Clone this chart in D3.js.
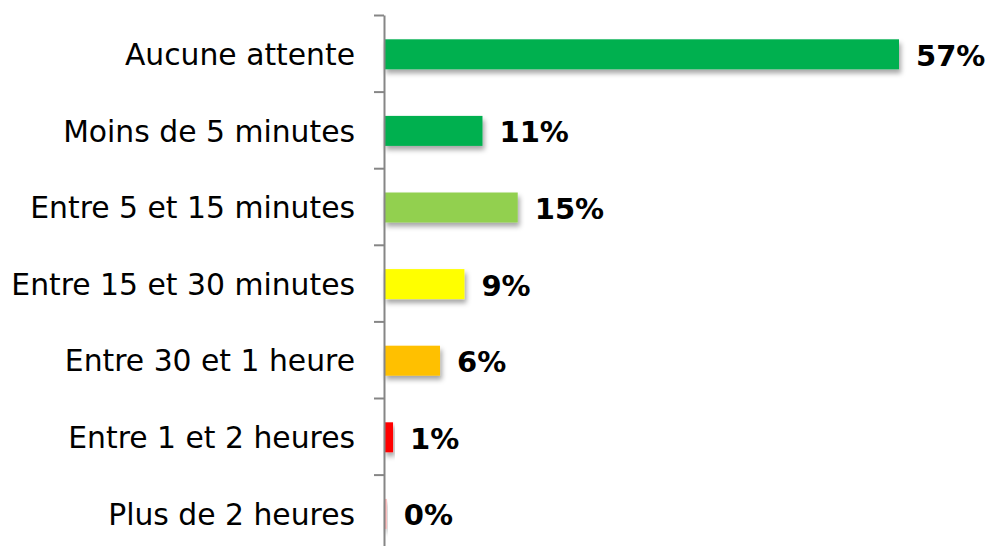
<!DOCTYPE html>
<html>
<head>
<meta charset="utf-8">
<script src="https://cdn.jsdelivr.net/npm/d3@7"></script>
<style>
  body { margin: 0; background: #fff; }
  svg { display: block; }
</style>
</head>
<body>
<div id="chart"></div>
<script>
var categories = ["Aucune attente", "Moins de 5 minutes", "Entre 5 et 15 minutes",
    "Entre 15 et 30 minutes", "Entre 30 et 1 heure", "Entre 1 et 2 heures", "Plus de 2 heures"];
var values = [57, 10.9, 14.8, 8.9, 6.2, 1.0, 0.3];
var valueLabels = ["57%", "11%", "15%", "9%", "6%", "1%", "0%"];
var colors = ["#00B050", "#00B050", "#92D050", "#FFFF00", "#FFC000", "#FF0000", "#FFB0B0"];

var width = 990, height = 546;
var axisX = 384, plotTop = 15, step = 76.6;

var svg = d3.select("#chart").append("svg")
    .attr("width", width)
    .attr("height", height);

var defs = svg.append("defs");
var f = defs.append("filter").attr("id", "shadow")
    .attr("x", "-10%").attr("y", "-30%").attr("width", "130%").attr("height", "180%");
f.append("feDropShadow")
    .attr("dx", 2).attr("dy", 4).attr("stdDeviation", 2.5)
    .attr("flood-color", "#000").attr("flood-opacity", 0.35);

var x = d3.scaleLinear().domain([0, 57]).range([axisX, 899]);
var y = d3.scaleBand().domain(categories).range([plotTop, plotTop + step * categories.length]).padding(0);
var yIdx = d3.scaleLinear().domain([0, categories.length]).range([plotTop, plotTop + step * categories.length]);

var barH = 30;

// bars
svg.selectAll("rect.bar")
    .data(categories)
    .enter().append("rect")
    .attr("class", "bar")
    .attr("x", x(0))
    .attr("y", function (d) { return y(d) + (y.bandwidth() - barH) / 2 + 1; })
    .attr("width", function (d, i) { return x(values[i]) - x(0); })
    .attr("height", barH)
    .attr("fill", function (d, i) { return colors[i]; })
    .attr("filter", "url(#shadow)");

// axis with ticks on category boundaries
svg.append("g")
    .attr("transform", "translate(" + axisX + ",0)")
    .call(d3.axisLeft(yIdx).tickValues(d3.range(0, categories.length + 1))
        .tickFormat("").tickSize(10).tickSizeOuter(0))
    .call(function (g) {
        g.selectAll("path, line").attr("stroke", "#868686").attr("stroke-width", 2);
    });

// category labels
svg.selectAll("text.cat")
    .data(categories)
    .enter().append("text")
    .attr("class", "cat")
    .attr("x", 355)
    .attr("y", function (d) { return y(d) + y.bandwidth() / 2 + 1; })
    .attr("dy", "0.36em")
    .attr("text-anchor", "end")
    .attr("font-family", "DejaVu Sans, Verdana, sans-serif")
    .attr("font-size", 29.8)
    .attr("fill", "#000")
    .text(function (d) { return d; });

// value labels
svg.selectAll("text.val")
    .data(categories)
    .enter().append("text")
    .attr("class", "val")
    .attr("x", function (d, i) { return x(values[i]) + 17; })
    .attr("y", function (d) { return y(d) + y.bandwidth() / 2 + 2; })
    .attr("dy", "0.36em")
    .attr("font-family", "DejaVu Sans, Verdana, sans-serif")
    .attr("font-weight", "bold")
    .attr("font-size", 29)
    .attr("fill", "#000")
    .text(function (d, i) { return valueLabels[i]; });
</script>
</body>
</html>
